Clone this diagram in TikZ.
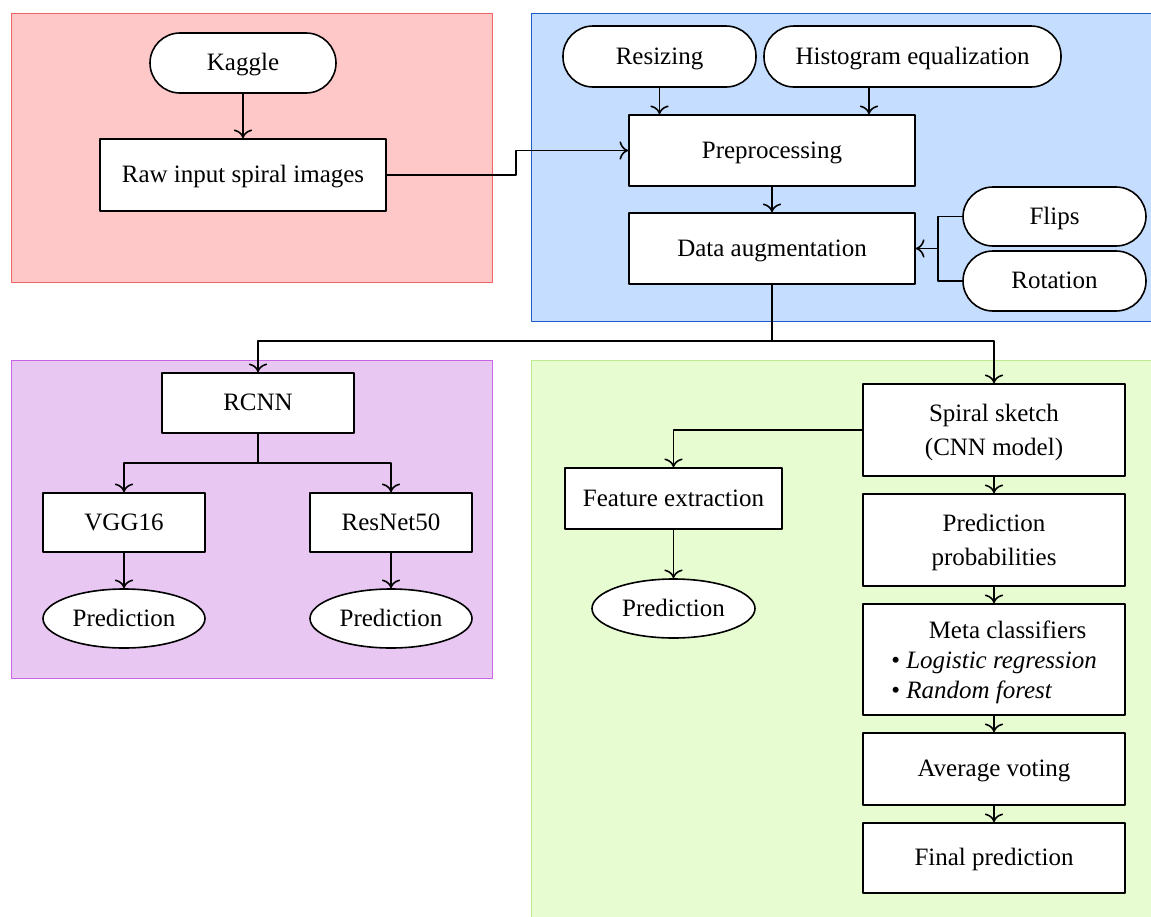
\documentclass[tikz,border=0pt]{standalone}
\usepackage{fontspec}
\setmainfont{Liberation Serif}
\usepackage{tikz}
\usetikzlibrary{shapes.geometric}
\usetikzlibrary{arrows.meta}
\usetikzlibrary{calc}

\definecolor{redfill}{RGB}{255,200,200}
\definecolor{redline}{RGB}{240,100,100}
\definecolor{bluefill}{RGB}{197,222,255}
\definecolor{blueline}{RGB}{30,90,200}
\definecolor{purplefill}{RGB}{232,200,242}
\definecolor{purpleline}{RGB}{200,100,230}
\definecolor{greenfill}{RGB}{232,252,210}
\definecolor{greenline}{RGB}{190,235,140}

\begin{document}
\begin{tikzpicture}[x=0.5pt,y=-0.5pt,line join=round,line width=0.8pt,>={To[scale=1.3]},
  every node/.style={font=\fontsize{12.5}{17}\selectfont},
  tallbox/.style={draw,fill=white,rectangle,inner sep=2pt,align=center,text depth=0pt},
  box/.style={tallbox,text height=0.76em},
  term/.style={draw,fill=white,rectangle,rounded corners=15pt,inner sep=2pt,text height=0.76em,text depth=0pt},
  pred/.style={draw,fill=white,ellipse,inner sep=0pt,text height=0.76em,text depth=0pt,minimum width=81pt,minimum height=29.5pt}]
\useasboundingbox (0,0) rectangle (1151,916);
% panels
\filldraw[line width=0.5pt,draw=redline,fill=redfill] (11,13) rectangle (492,282);
\filldraw[line width=0.5pt,draw=blueline,fill=bluefill] (531,13) rectangle (1155,321);
\filldraw[line width=0.5pt,draw=purpleline,fill=purplefill] (11,360) rectangle (492,678);
\filldraw[line width=0.5pt,draw=greenline,fill=greenfill] (531,360) rectangle (1155,920);
% data source
\node[term,minimum width=93pt,minimum height=30pt] (kaggle) at (243,63) {Kaggle};
\node[box,minimum width=143pt,minimum height=36pt] (raw) at (243,175) {Raw input spiral images};
% preprocessing
\node[term,minimum width=96.5pt,minimum height=30.5pt] (resize) at (659.5,56.5) {Resizing};
\node[term,minimum width=148.5pt,minimum height=30.5pt] (hist) at (912.5,56.5) {Histogram equalization};
\node[box,minimum width=143pt,minimum height=35.5pt] (prep) at (772,150.5) {Preprocessing};
\node[box,minimum width=143pt,minimum height=35.5pt] (aug) at (772,248.5) {Data augmentation};
\node[term,minimum width=91.5pt,minimum height=29.5pt] (flips) at (1054.5,216.5) {Flips};
\node[term,minimum width=91.5pt,minimum height=30pt] (rot) at (1054.5,281) {Rotation};
% transfer learning
\node[box,minimum width=96pt,minimum height=30pt] (rcnn) at (258,403) {RCNN};
\node[box,minimum width=81pt,minimum height=29.5pt] (vgg) at (124,522.5) {VGG16};
\node[box,minimum width=81pt,minimum height=29.5pt] (resnet) at (391,522.5) {ResNet50};
\node[pred] (predvgg) at (124,618.5) {Prediction};
\node[pred] (predres) at (391,618.5) {Prediction};
% cnn model
\node[tallbox,minimum width=131pt,minimum height=46pt] (spiral) at (994,430) {Spiral sketch\\(CNN model)};
\node[box,minimum width=108.5pt,minimum height=30.5pt] (feat) at (673.5,498.5) {Feature extraction};
\node[pred,minimum width=81.5pt] (predfeat) at (673.5,608.5) {Prediction};
\node[tallbox,minimum width=131pt,minimum height=46pt] (prob) at (994,540) {Prediction\\probabilities};
\node[tallbox,minimum width=131pt,minimum height=55.5pt,align=left,font=\fontsize{12.5}{15}\selectfont] (meta) at (994,659.5)
  {\hspace*{1.5em}Meta classifiers\\\textbullet\ \textit{Logistic regression}\\\textbullet\ \textit{Random forest}};
\node[box,minimum width=131pt,minimum height=36pt] (avg) at (994,769) {Average voting};
\node[box,minimum width=131pt,minimum height=35pt] (final) at (994,858) {Final prediction};
% connectors
\draw[->] (kaggle) -- (raw);
\draw[->] (raw.east) -- ++(129,0) |- (prep.west);
\draw[->] (resize.south) -- (resize.south |- prep.north);
\draw[->] ([xshift=-21.75pt]hist.south) -- ([xshift=-21.75pt]hist.south |- prep.north);
\draw[->] (prep) -- (aug);
\draw[->] (flips.west) -- ++(-24,0) |- (aug.east);
\draw (rot.west) -- ++(-24,0) |- (aug.east);
\draw (aug.south) -- ++(0,56) coordinate (split);
\draw[->] (split) -| (rcnn.north);
\draw[->] (split) -| (spiral.north);
\draw (rcnn.south) -- ++(0,29) coordinate (fork);
\draw[->] (fork) -| (vgg.north);
\draw[->] (fork) -| (resnet.north);
\draw[->] (vgg) -- (predvgg);
\draw[->] (resnet) -- (predres);
\draw[->] (spiral.west) -| (feat.north);
\draw[->] (feat) -- (predfeat);
\foreach \a/\b in {spiral/prob,prob/meta,meta/avg,avg/final}
  \draw[->] (\a) -- (\b);
\end{tikzpicture}
\end{document}
